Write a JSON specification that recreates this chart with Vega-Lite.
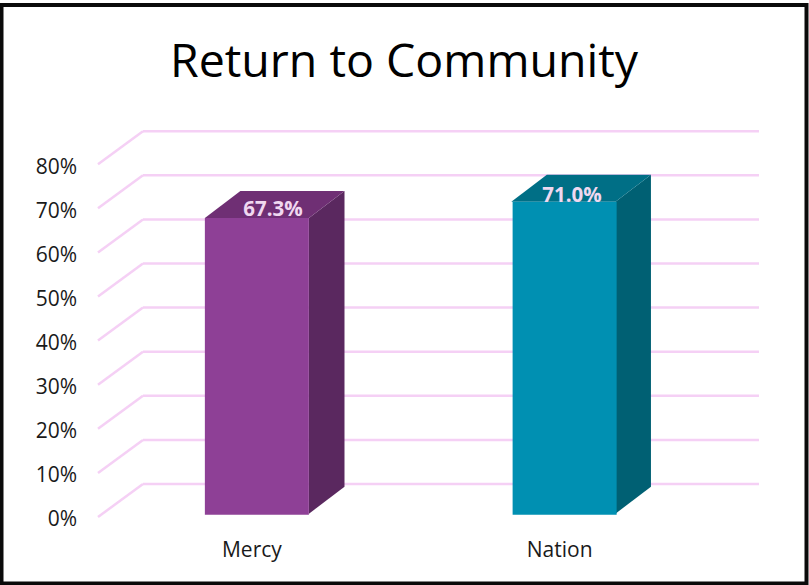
{
"$schema":"https://vega.github.io/schema/vega-lite/v6.json",
"width":805,"height":578.5,
"autosize":{"type":"none"},
"padding":{"left":1.5,"top":5,"right":2.5,"bottom":1.5},
"background":"white",
"view":{"stroke":"#0a0a0a","strokeWidth":4,"fill":"white"},
"config":{"font":"Open Sans"},
"title":{"text":"Return to Community","fontSize":46.5,"font":"Open Sans","fontWeight":"normal","color":"#000000","anchor":"middle","dy":85,"dx":0},
"datasets":{
"bars":[{"category":"Mercy","value":67.3},{"category":"Nation","value":71.0}],
"ticks":[{"tick":0},{"tick":10},{"tick":20},{"tick":30},{"tick":40},{"tick":50},{"tick":60},{"tick":70},{"tick":80}]
},
"resolve":{"scale":{"x":"independent","color":"independent"},"axis":{"x":"independent"}},
"layer":[
{"data":{"name":"ticks"},
 "mark":{"type":"rule","color":"#F5D0F5","strokeWidth":2.5,"yOffset":-33},
 "encoding":{
  "x":{"datum":0.146,"type":"quantitative","scale":{"domain":[-0.3133,2.3003],"nice":false,"zero":false},"axis":null},
  "x2":{"datum":2.146},
  "y":{"field":"tick","type":"quantitative","scale":{"domain":[-15.08,116.1],"nice":false,"zero":false},
   "axis":{"orient":"left","values":[0,10,20,30,40,50,60,70,80],"labelExpr":"datum.value+'%'","title":null,"grid":false,"domain":false,"ticks":false,"offset":-75,"labelPadding":0,"labelOffset":3,"labelFontSize":21,"labelColor":"#1a1a1a","labelFont":"Open Sans"}}
 }},
{"data":{"name":"ticks"},
 "mark":{"type":"rule","color":"#F5D0F5","strokeWidth":2.5,"y2Offset":-33},
 "encoding":{
  "x":{"datum":0,"type":"quantitative","scale":{"domain":[-0.3133,2.3003],"nice":false,"zero":false},"axis":null},
  "x2":{"datum":0.146},
  "y":{"field":"tick","type":"quantitative"},
  "y2":{"field":"tick"}
 }},
{"data":{"name":"bars"},
 "transform":[
  {"calculate":"[0,1]","as":"k"},{"flatten":["k"]},
  {"calculate":"(datum.category==='Mercy'?0.347:1.342)+0.338+datum.k*0.1153","as":"sx"},
  {"calculate":"0.75+datum.k*6.12","as":"low"},
  {"calculate":"datum.value+datum.low-0.25","as":"high"}
 ],
 "mark":{"type":"area","opacity":1},
 "encoding":{
  "x":{"field":"sx","type":"quantitative","scale":{"domain":[-0.3133,2.3003],"nice":false,"zero":false},"axis":null},
  "y":{"field":"high","type":"quantitative"},
  "y2":{"field":"low"},
  "detail":{"field":"category"},
  "color":{"field":"category","type":"nominal","scale":{"domain":["Mercy","Nation"],"range":["#5A285F","#006073"]},"legend":null}
 }},
{"data":{"name":"bars"},
 "transform":[
  {"calculate":"[0,1]","as":"k"},{"flatten":["k"]},
  {"calculate":"(datum.category==='Mercy'?0.347:1.342)+datum.k*0.1153","as":"tl"},
  {"calculate":"datum.tl+0.338","as":"tr"},
  {"calculate":"datum.value+0.5+datum.k*6.12","as":"ty"}
 ],
 "mark":{"type":"area","orient":"horizontal"},
 "encoding":{
  "y":{"field":"ty","type":"quantitative"},
  "x":{"field":"tl","type":"quantitative","scale":{"domain":[-0.3133,2.3003],"nice":false,"zero":false},"axis":null},
  "x2":{"field":"tr"},
  "detail":{"field":"category"},
  "color":{"field":"category","type":"nominal","scale":{"domain":["Mercy","Nation"],"range":["#6F2F74","#006F86"]},"legend":null}
 }},
{"data":{"name":"bars"},
 "mark":{"type":"bar","xOffset":5,"x2Offset":5,"yOffset":-2.2,"y2Offset":-3.3},
 "encoding":{
  "x":{"field":"category","type":"nominal","scale":{"domain":["Mercy","Nation"],"range":[96.5,712],"paddingInner":0.662,"paddingOuter":0.331},
   "axis":{"orient":"bottom","title":null,"labelAngle":0,"domain":false,"ticks":false,"grid":false,"offset":-44,"labelPadding":0,"labelFontSize":21,"labelColor":"#1a1a1a","labelFont":"Open Sans"}},
  "y":{"field":"value","type":"quantitative"},
  "color":{"field":"category","type":"nominal","scale":{"domain":["Mercy","Nation"],"range":["#8E4096","#0090B2"]},"legend":null}
 }},
{"data":{"name":"bars"},
 "transform":[
  {"calculate":"datum.category==='Mercy'?0.568:1.539","as":"lx"},
  {"calculate":"datum.category==='Mercy'?69.6:72.8","as":"ly"},
  {"calculate":"format(datum.value,'.1f')+'%'","as":"label"}
 ],
 "mark":{"type":"text","fontSize":20.5,"fontWeight":"bold","color":"#F0D8F0","font":"Open Sans","baseline":"middle"},
 "encoding":{
  "x":{"field":"lx","type":"quantitative","scale":{"domain":[-0.3133,2.3003],"nice":false,"zero":false},"axis":null},
  "y":{"field":"ly","type":"quantitative"},
  "text":{"field":"label"}
 }}
]
}
